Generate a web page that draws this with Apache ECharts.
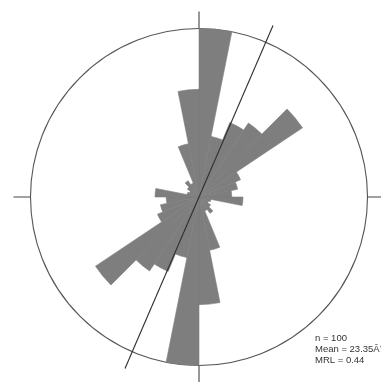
<!DOCTYPE html>
<html>
<head>
<meta charset="utf-8">
<script src="https://cdn.jsdelivr.net/npm/echarts@6/dist/echarts.min.js"></script>
<style>
  html, body { margin: 0; padding: 0; background: #ffffff; }
  #chart { width: 381px; height: 382px; }
</style>
</head>
<body>
<div id="chart"></div>
<script>
// Axial orientation data: 16 bins of 11.25° over 0–180°, mirrored onto 180–360°.
const binWidth = 11.25;
const halfBinCounts = [18, 6.6, 8.6, 9.5, 13.3, 4.8, 4.2, 3.5, 4.7, 1.3, 1.1, 1.5, 2.1, 1.6, 5.8, 11.5];
const sampleSize = 100;
const meanDirection = 23.35;
const meanResultantLength = 0.44;

const binCounts = halfBinCounts.concat(halfBinCounts);
const binLabels = binCounts.map((_, i) => (i * binWidth) + '–' + ((i + 1) * binWidth));
const maxCount = Math.max.apply(null, binCounts);

const statsLines = [
  'n = ' + sampleSize,
  'Mean = ' + meanDirection.toFixed(2) + 'Â°',
  'MRL = ' + meanResultantLength.toFixed(2)
];

const chart = echarts.init(document.getElementById('chart'), null, { renderer: 'canvas' });

chart.setOption({
  animation: false,
  backgroundColor: '#ffffff',
  polar: [
    { center: [199, 197], radius: 168.5 },
    { center: [199, 197], radius: 187 }
  ],
  angleAxis: [
    {
      polarIndex: 0,
      type: 'category',
      data: binLabels,
      startAngle: 90,
      clockwise: true,
      boundaryGap: true,
      axisLine: { show: true, lineStyle: { color: '#555555', width: 1.1 } },
      axisTick: { show: true, inside: false, length: 17, interval: 7, lineStyle: { color: '#444444', width: 1.1 } },
      axisLabel: { show: false },
      splitLine: { show: false }
    },
    {
      polarIndex: 1,
      type: 'value',
      min: 0,
      max: 360,
      startAngle: 90,
      clockwise: true,
      axisLine: { show: false },
      axisTick: { show: false },
      axisLabel: { show: false },
      splitLine: { show: false }
    }
  ],
  radiusAxis: [
    {
      polarIndex: 0,
      type: 'value',
      min: 0,
      max: maxCount,
      axisLine: { show: false },
      axisTick: { show: false },
      axisLabel: { show: false },
      splitLine: { show: false }
    },
    {
      polarIndex: 1,
      type: 'value',
      min: 0,
      max: 1,
      axisLine: { show: false },
      axisTick: { show: false },
      axisLabel: { show: false },
      splitLine: { show: false }
    }
  ],
  series: [
    {
      name: 'Frequency',
      type: 'bar',
      coordinateSystem: 'polar',
      polarIndex: 0,
      data: binCounts,
      barCategoryGap: '0%',
      itemStyle: { color: '#7e7e7e', borderColor: '#7e7e7e', borderWidth: 0.6 },
      z: 1
    },
    {
      name: 'Mean direction',
      type: 'line',
      coordinateSystem: 'polar',
      polarIndex: 1,
      data: [[1, meanDirection], [1, meanDirection + 180]],
      symbol: 'none',
      clip: false,
      lineStyle: { color: '#2e2e2e', width: 1.1 },
      z: 3
    }
  ],
  graphic: [
    {
      type: 'text',
      left: 315,
      top: 333,
      style: {
        text: statsLines.join('\n'),
        font: '9.5px "Liberation Sans", Arial, sans-serif',
        lineHeight: 11,
        fill: '#333333'
      }
    }
  ]
});
</script>
</body>
</html>
